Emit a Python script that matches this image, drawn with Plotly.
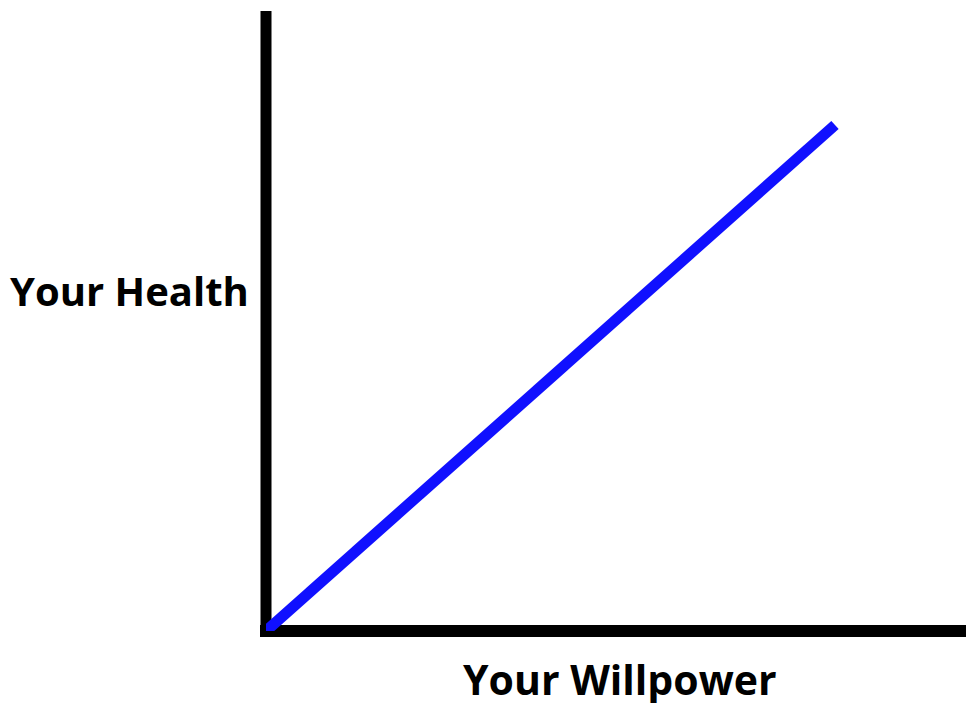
import plotly.graph_objects as go

# Data
willpower = [0, 10]
health = [0, 10]
x_label = "Your Willpower"
y_label = "Your Health"

W, H = 966, 703
L, R, T, B = 266, 0, 11, 72
pw, ph = W - L - R, H - T - B

fig = go.Figure()
fig.add_trace(go.Scatter(
    x=willpower, y=health, mode="lines",
    line=dict(color="#1010FF", width=11),
    hoverinfo="skip", showlegend=False,
))

fig.update_layout(
    width=W, height=H,
    margin=dict(l=L, r=R, t=T, b=B, pad=0),
    paper_bgcolor="white", plot_bgcolor="white",
    xaxis=dict(range=[0, 10 * 700 / 569], showgrid=False, zeroline=False,
               showticklabels=False, ticks="", showline=False, fixedrange=True),
    yaxis=dict(range=[0, 10 * 620 / 506], showgrid=False, zeroline=False,
               showticklabels=False, ticks="", showline=False, fixedrange=True),
    shapes=[
        dict(type="line", xref="paper", yref="paper", x0=0, x1=0,
             y0=0, y1=1, line=dict(color="black", width=11), layer="below"),
        dict(type="line", xref="paper", yref="paper", x0=-6 / pw, x1=1,
             y0=0, y1=0, line=dict(color="black", width=12), layer="below"),
    ],
    annotations=[
        dict(text=f"<b>{y_label}</b>", xref="paper", yref="paper",
             x=(129 - L) / pw, y=(H - B - 290) / ph, xanchor="center", yanchor="middle",
             showarrow=False, font=dict(family="Open Sans", size=40, color="black")),
        dict(text=f"<b>{x_label}</b>", xref="paper", yref="paper",
             x=(620 - L) / pw, y=(H - B - 679) / ph, xanchor="center", yanchor="middle",
             showarrow=False, font=dict(family="Open Sans", size=41, color="black")),
    ],
)

fig.write_html("out.html", config={"displayModeBar": False},
               post_script="document.body.style.margin='0';")
